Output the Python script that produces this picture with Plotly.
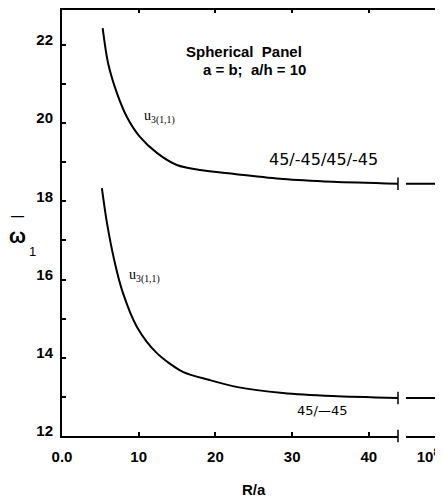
import plotly.graph_objects as go

# ---- data ----
R_upper = [5.3, 6.0, 7.16, 8.46, 10.16, 12.37, 14.97, 18.0, 22.5, 28.8, 35.3, 43.8]
w_upper = [22.43, 21.54, 20.77, 20.16, 19.65, 19.24, 18.93, 18.8, 18.7, 18.57, 18.5, 18.45]
R_lower = [5.2, 5.86, 6.9, 7.94, 9.77, 12.37, 15.76, 19.27, 22.9, 28.8, 35.3, 43.8]
w_lower = [18.34, 17.45, 16.42, 15.66, 14.79, 14.12, 13.64, 13.43, 13.25, 13.1, 13.02, 12.97]
R_inf = 1e8
w_inf = [18.45, 12.97]           # upper, lower at R/a = 10^8
x_ticks = [0, 10, 20, 30, 40]
x_ticktext = ["0.0", "10", "20", "30", "40"]
y_ticks = [12, 14, 16, 18, 20, 22]

X1_MAX = 43.8
X2_RANGE_LOG = [7.45, 8.45]

fig = go.Figure()
line = dict(color="black", width=2)

fig.add_trace(go.Scatter(x=R_upper, y=w_upper, mode="lines", line=dict(shape="spline", smoothing=0.8, **line),
                         xaxis="x", yaxis="y", showlegend=False))
fig.add_trace(go.Scatter(x=R_lower, y=w_lower, mode="lines", line=dict(shape="spline", smoothing=0.8, **line),
                         xaxis="x", yaxis="y", showlegend=False))
lo, hi = 10 ** X2_RANGE_LOG[0], 10 ** X2_RANGE_LOG[1]
for w in w_inf:
    fig.add_trace(go.Scatter(x=[lo, hi], y=[w, w], mode="lines", line=line,
                             xaxis="x2", yaxis="y", showlegend=False))

# break marks
brk = dict(symbol="line-ns", size=9, line=dict(color="black", width=1.5), color="black")
fig.add_trace(go.Scatter(x=[X1_MAX] * 3, y=[w_upper[-1], w_lower[-1], 12], mode="markers",
                         marker=brk, cliponaxis=False, xaxis="x", yaxis="y", showlegend=False))
fig.add_trace(go.Scatter(x=[lo] * 3, y=w_inf + [12], mode="markers",
                         marker=brk, cliponaxis=False, xaxis="x2", yaxis="y", showlegend=False))

# the page has an 8px body margin, so the figure is placed 8px in from the top-left
OFF = 8
RIGHT = 446                     # page x of the (off-screen) right edge of the plot area
W, H = RIGHT - OFF, 502 - OFF
L, T = 62 - OFF, 9 - OFF
B = H - (436 - OFF)
PW, PH = W - L, H - T - B
D1 = (398 - 62) / PW
D2 = (406 - 62) / PW


def px(xp, yp):
    """reference page pixel -> paper coordinates"""
    return (xp - OFF - L) / PW, (H - B - (yp - OFF)) / PH


tickfont = dict(family="Liberation Sans", size=15, color="black", weight="bold")
fig.update_layout(
    width=W, height=H,
    margin=dict(l=L, r=0, t=T, b=B, autoexpand=False),
    plot_bgcolor="white", paper_bgcolor="white",
    font=dict(family="Liberation Sans", color="black"),
    xaxis=dict(domain=[0, D1], range=[0, X1_MAX], tickvals=x_ticks, ticktext=x_ticktext,
               ticks="inside", ticklen=4, tickwidth=1.5, tickcolor="black", automargin=False,
               showline=True, linecolor="black", linewidth=2, mirror="ticks",
               showgrid=False, zeroline=False, tickfont=tickfont, ticklabelstandoff=6),
    xaxis2=dict(domain=[D2, 1], type="log", range=X2_RANGE_LOG, anchor="y", automargin=False,
                tickvals=[R_inf], ticktext=["10<sup>8</sup>"],
                ticks="", showline=True, linecolor="black", linewidth=2,
                showgrid=False, zeroline=False, tickfont=tickfont, ticklabelstandoff=6),
    yaxis=dict(range=[12, 22.92], tickvals=y_ticks, ticks="inside", ticklen=4, tickwidth=1.5,
               tickcolor="black", automargin=False,
               minor=dict(dtick=1, ticks="inside", ticklen=4, tickcolor="black", showgrid=False),
               showline=True, linecolor="black", linewidth=2,
               showgrid=False, zeroline=False, tickfont=tickfont,
               ticklabelstandoff=4, ticklabelshift=-5),
    shapes=[dict(type="line", xref="paper", yref="paper", x0=0, x1=1, y0=1, y1=1,
                 line=dict(color="black", width=2))],
)

ann = []
x, y = px(244, 51)
ann.append(dict(x=x, y=y, xref="paper", yref="paper", text="<b>Spherical  Panel</b>", font=dict(size=15)))
x, y = px(254, 69)
ann.append(dict(x=x, y=y, xref="paper", yref="paper", text="<b>a = b;  a/h = 10</b>", font=dict(size=15)))
ann.append(dict(x=34.1, y=19.06, xref="x", yref="y", text="45/-45/45/-45",
                font=dict(family="DejaVu Sans", size=16)))
ann.append(dict(x=33.9, y=12.66, xref="x", yref="y", text="45/—45",
                font=dict(family="DejaVu Sans", size=13)))
ann.append(dict(x=10.45, y=20.15, xref="x", yref="y", xanchor="left",
                text="u<sub>3(1,1)</sub>", font=dict(family="Liberation Serif", size=14)))
ann.append(dict(x=8.45, y=16.1, xref="x", yref="y", xanchor="left",
                text="u<sub>3(1,1)</sub>", font=dict(family="Liberation Serif", size=14)))
x, y = px(254, 490)
ann.append(dict(x=x, y=y, xref="paper", yref="paper", text="<b>R/a</b>", font=dict(size=15)))
# y-axis symbol: omega with an overbar and subscript 1
x, y = px(17, 236)
ann.append(dict(x=x, y=y, xref="paper", yref="paper", text="<b>ω</b>", font=dict(size=20)))
x, y = px(17, 215)
ann.append(dict(x=x, y=y, xref="paper", yref="paper", text="<b>—</b>", font=dict(size=13)))
x, y = px(32, 252)
ann.append(dict(x=x, y=y, xref="paper", yref="paper", text="1", font=dict(size=13)))
for a in ann:
    a["showarrow"] = False
    a.setdefault("xanchor", "center")
    a["yanchor"] = "middle"
    a["textangle"] = 0
fig.update_layout(annotations=ann)

fig.write_html("out.html")
